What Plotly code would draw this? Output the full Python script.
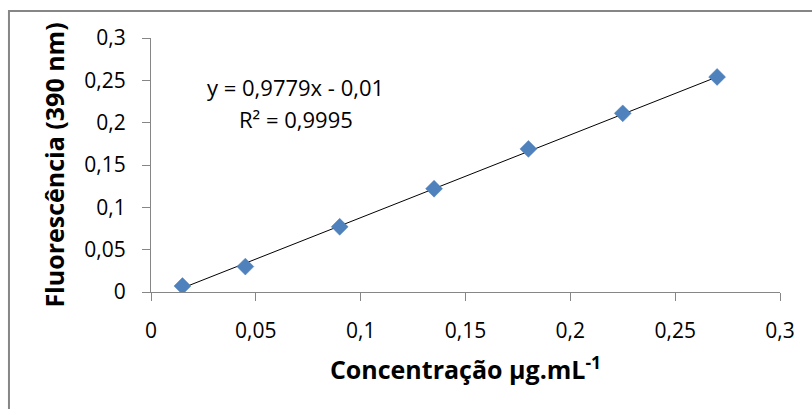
import plotly.graph_objects as go

# Data
conc = [0.015, 0.045, 0.09, 0.135, 0.18, 0.225, 0.27]
fluor = [0.007, 0.030, 0.077, 0.122, 0.169, 0.211, 0.254]

# Linear trendline coefficients (as printed on chart)
slope = 0.9779
intercept = -0.01

tick_vals = [0, 0.05, 0.1, 0.15, 0.2, 0.25, 0.3]
tick_text = ["0", "0,05", "0,1", "0,15", "0,2", "0,25", "0,3"]

eq_text = "y = 0,9779x - 0,01"
r2_text = "R² = 0,9995"

x_title = "Concentração µg.mL<sup>-1</sup>"
y_title = "Fluorescência (390 nm)"

trend_x = [min(conc), max(conc)]
trend_y = [slope * v + intercept for v in trend_x]

FONT = "Open Sans"
AXC = "#868686"

fig = go.Figure()
fig.add_trace(go.Scatter(
    x=trend_x, y=trend_y, mode="lines",
    line=dict(color="black", width=1), showlegend=False, hoverinfo="skip",
))
fig.add_trace(go.Scatter(
    x=conc, y=fluor, mode="markers",
    marker=dict(symbol="diamond", size=13, color="#4F81BD",
                line=dict(color="#4A7EBB", width=0.5)),
    showlegend=False,
))

fig.update_layout(
    width=812, height=409,
    margin=dict(l=151, r=32, t=38, b=117),
    paper_bgcolor="white", plot_bgcolor="white",
    font=dict(family=FONT, size=21, color="black"),
    showlegend=False,
    xaxis=dict(
        range=[0, 0.3], tickvals=tick_vals, ticktext=tick_text,
        showgrid=False, zeroline=False, showline=True, linecolor=AXC, linewidth=1,
        ticks="outside", ticklen=8, tickcolor=AXC, tickwidth=1,
        ticklabelstandoff=12,
        title=dict(text=x_title, font=dict(family=FONT, size=25, color="black", weight="bold"), standoff=18),
    ),
    yaxis=dict(
        range=[0, 0.3], tickvals=tick_vals, ticktext=tick_text,
        showgrid=False, zeroline=False, showline=True, linecolor=AXC, linewidth=1,
        ticks="outside", ticklen=8, tickcolor=AXC, tickwidth=1,
        ticklabelstandoff=12,
        title=dict(text=y_title, font=dict(family=FONT, size=25, color="black", weight="bold"), standoff=12),
    ),
    annotations=[
        dict(text=eq_text, xref="paper", yref="paper", x=0.229, y=0.809,
             showarrow=False, xanchor="center", yanchor="middle", font=dict(size=22)),
        dict(text=r2_text, xref="paper", yref="paper", x=0.230, y=0.681,
             showarrow=False, xanchor="center", yanchor="middle", font=dict(size=22)),
    ],
    shapes=[
        dict(type="rect", xref="paper", yref="paper", x0=-0.2258, y0=-0.6, x1=1.2, y1=1.106,
             line=dict(color=AXC, width=2), fillcolor="rgba(0,0,0,0)", layer="below"),
    ],
)

fig.write_html("out.html")
